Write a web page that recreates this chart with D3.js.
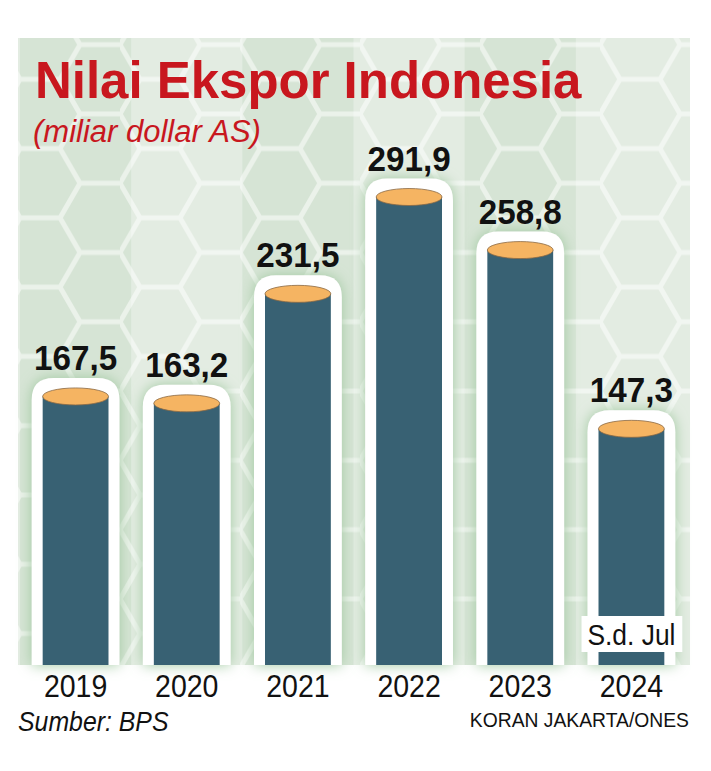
<!DOCTYPE html>
<meta charset="utf-8">
<script src="https://d3js.org/d3.v7.min.js"></script>
<style>
  body { margin: 0; background: #fff; }
  text { font-family: "Liberation Sans", Arial, sans-serif; }
</style>
<div id="my_dataviz"></div>
<script>

// data
var years = ["2019", "2020", "2021", "2022", "2023", "2024"];
var values = [167.5, 163.2, 231.5, 291.9, 258.8, 147.3];
var valueLabels = ["167,5", "163,2", "231,5", "291,9", "258,8", "147,3"];
var noteYear = "2024";
var noteText = "S.d. Jul";

var width = 711, height = 771;
var panel = {left: 18, top: 38, right: 690, bottom: 665};

var svg = d3.select("#my_dataviz")
  .append("svg")
    .attr("width", width)
    .attr("height", height);

var defs = svg.append("defs");

// hexagon line pattern for the background
var s = 40, h = Math.sqrt(3) * s;
var pat = defs.append("pattern")
    .attr("id", "hex")
    .attr("patternUnits", "userSpaceOnUse")
    .attr("width", 3 * s)
    .attr("height", h)
    .attr("x", 0)
    .attr("y", 10);
pat.append("path")
    .attr("d", "M" + (s / 2) + ",0 L" + (1.5 * s) + ",0 L" + (2 * s) + "," + (h / 2) +
      " L" + (1.5 * s) + "," + h + " L" + (s / 2) + "," + h + " L0," + (h / 2) + " Z" +
      " M" + (2 * s) + "," + (h / 2) + " L" + (3 * s) + "," + (h / 2))
    .attr("fill", "none")
    .attr("stroke", "rgba(255,255,255,0.5)")
    .attr("stroke-width", 5);

var glow = defs.append("filter")
    .attr("id", "glow")
    .attr("x", "-30%").attr("y", "-30%")
    .attr("width", "160%").attr("height", "160%");
glow.append("feGaussianBlur").attr("in", "SourceAlpha").attr("stdDeviation", 7).attr("result", "b");
glow.append("feFlood").attr("flood-color", "#9fc89f").attr("flood-opacity", 1);
glow.append("feComposite").attr("in2", "b").attr("operator", "in").attr("result", "g");
var mg = glow.append("feMerge");
mg.append("feMergeNode").attr("in", "g");
mg.append("feMergeNode").attr("in", "SourceGraphic");

// scales
var x = d3.scaleBand()
  .domain(years)
  .range([20, 687])
  .paddingInner(0.21)
  .paddingOuter(0.105);

var y = d3.scaleLinear()
  .domain([0, 291.9])
  .range([panel.bottom, 197]);

// background panel with stripes
svg.append("rect")
    .attr("x", panel.left).attr("y", panel.top)
    .attr("width", panel.right - panel.left)
    .attr("height", panel.bottom - panel.top)
    .attr("fill", "#e3ece2");

var step = x.step();
svg.selectAll(".stripe")
  .data(years.filter(function(d, i) { return i % 2 == 0; }))
  .enter()
  .append("rect")
    .attr("x", function(d) { return Math.max(panel.left, x(d) + x.bandwidth() / 2 - step / 2); })
    .attr("y", panel.top)
    .attr("width", function(d) {
      var x0 = x(d) + x.bandwidth() / 2 - step / 2;
      return x0 + step - Math.max(panel.left, x0);
    })
    .attr("height", panel.bottom - panel.top)
    .attr("fill", "#d6e4d5");

svg.append("rect")
    .attr("x", panel.left).attr("y", panel.top)
    .attr("width", panel.right - panel.left)
    .attr("height", panel.bottom - panel.top)
    .attr("fill", "url(#hex)");

var data = years.map(function(d, i) { return {year: d, value: values[i], label: valueLabels[i]}; });

var ry = 8.5, inset = 11, pad = 10, rr = 22;

// white capsules
svg.selectAll(".cap")
  .data(data)
  .enter()
  .append("path")
    .attr("filter", "url(#glow)")
    .attr("fill", "#ffffff")
    .attr("d", function(d) {
      var x0 = x(d.year), w = x.bandwidth();
      var t = y(d.value) - ry - pad, b = panel.bottom;
      return "M" + x0 + "," + b + " L" + x0 + "," + (t + rr) +
        " Q" + x0 + "," + t + " " + (x0 + rr) + "," + t +
        " L" + (x0 + w - rr) + "," + t +
        " Q" + (x0 + w) + "," + t + " " + (x0 + w) + "," + (t + rr) +
        " L" + (x0 + w) + "," + b + " Z";
    });

// bars
svg.selectAll(".bar")
  .data(data)
  .enter()
  .append("rect")
    .attr("x", function(d) { return x(d.year) + inset; })
    .attr("y", function(d) { return y(d.value); })
    .attr("width", x.bandwidth() - 2 * inset)
    .attr("height", function(d) { return panel.bottom - y(d.value); })
    .attr("fill", "#386173");

// orange tops
svg.selectAll(".top")
  .data(data)
  .enter()
  .append("ellipse")
    .attr("cx", function(d) { return x(d.year) + x.bandwidth() / 2; })
    .attr("cy", function(d) { return y(d.value); })
    .attr("rx", x.bandwidth() / 2 - inset)
    .attr("ry", ry)
    .attr("fill", "#f5b462")
    .attr("stroke", "#8a6a45")
    .attr("stroke-width", 0.8);

// value labels (condensed look)
svg.selectAll(".val")
  .data(data)
  .enter()
  .append("text")
    .attr("transform", function(d) {
      return "translate(" + (x(d.year) + x.bandwidth() / 2) + "," + (y(d.value) - ry - pad - 8) + ") scale(0.95,1)";
    })
    .attr("text-anchor", "middle")
    .style("font-weight", "bold")
    .style("font-size", "35px")
    .attr("fill", "#111")
    .text(function(d) { return d.label; });

// note box on 2024
svg.append("rect")
    .attr("x", x(noteYear) - 6)
    .attr("y", 616)
    .attr("width", x.bandwidth() + 13)
    .attr("height", 36)
    .attr("fill", "#fff");
svg.append("text")
    .attr("transform", "translate(" + (x(noteYear) + x.bandwidth() / 2) + ",645) scale(0.88,1)")
    .attr("text-anchor", "middle")
    .style("font-size", "30px")
    .attr("fill", "#111")
    .text(noteText);

// x axis labels
svg.selectAll(".year")
  .data(years)
  .enter()
  .append("text")
    .attr("transform", function(d) { return "translate(" + (x(d) + x.bandwidth() / 2) + ",697) scale(0.92,1)"; })
    .attr("text-anchor", "middle")
    .style("font-size", "31px")
    .attr("fill", "#111")
    .text(function(d) { return d; });

// title
svg.append("text")
    .attr("transform", "translate(35,98) scale(0.98,1)")
    .style("font-weight", "bold")
    .style("font-size", "52px")
    .attr("fill", "#c8171e")
    .text("Nilai Ekspor Indonesia");

svg.append("text")
    .attr("x", 33)
    .attr("y", 142)
    .style("font-style", "italic")
    .style("font-size", "31px")
    .attr("fill", "#c8171e")
    .text("(miliar dollar AS)");

// footer
svg.append("text")
    .attr("transform", "translate(18,731) scale(0.92,1)")
    .style("font-style", "italic")
    .style("font-size", "27px")
    .attr("fill", "#111")
    .text("Sumber: BPS");

svg.append("text")
    .attr("transform", "translate(689,727) scale(0.92,1)")
    .attr("text-anchor", "end")
    .style("font-size", "21px")
    .attr("fill", "#111")
    .text("KORAN JAKARTA/ONES");

</script>
